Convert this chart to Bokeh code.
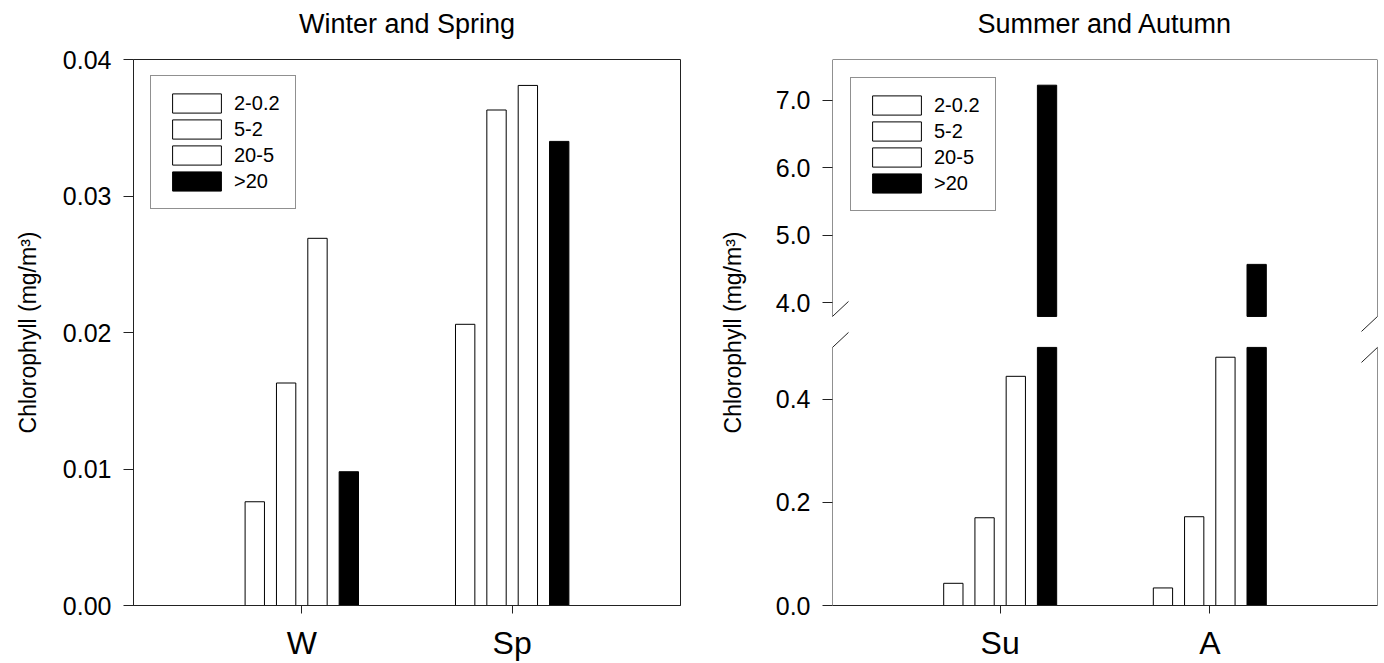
import numpy as np
from bokeh.plotting import figure
from bokeh.layouts import row
from bokeh.models import (FixedTicker, NumeralTickFormatter, Legend, LegendItem,
                          Arrow, ColumnDataSource, Range1d, Title)
from bokeh.embed import file_html
from bokeh.resources import INLINE

# ---------------- data ----------------
size_classes = ["2-0.2", "5-2", "20-5", ">20"]
fill_colors = ["white", "white", "white", "black"]

ws_title = "Winter and Spring"
ws_categories = ["W", "Sp"]
ws_2_02 = [0.0076, 0.0206]
ws_5_2 = [0.0163, 0.0363]
ws_20_5 = [0.0269, 0.0381]
ws_gt20 = [0.0098, 0.0340]
ws_ticks = [0.00, 0.01, 0.02, 0.03, 0.04]

sa_title = "Summer and Autumn"
sa_categories = ["Su", "A"]
sa_2_02 = [0.043, 0.034]
sa_5_2 = [0.170, 0.172]
sa_20_5 = [0.444, 0.481]
sa_gt20 = [7.22, 4.57]
sa_ticks_low = [0.0, 0.2, 0.4]
sa_ticks_high = [4.0, 5.0, 6.0, 7.0]

y_label = "Chlorophyll (mg/m³)"

# ---------------- style constants ----------------
FONT = "Liberation Sans"
AX = "#222222"
X_START, X_END = 0.2, 2.8
OFFSETS = [-0.2235, -0.0745, 0.0745, 0.2235]
BAR_W = 0.092
FRAME_H = 546

# broken axis (right panel)
LOW_MAX, HIGH_MIN, HIGH_MAX = 0.5, 3.8, 7.6
GAP, SCALE = 0.06, 0.131


def brk(v):
    v = np.asarray(v, dtype=float)
    return np.where(v <= LOW_MAX, v, LOW_MAX + GAP + (v - HIGH_MIN) * SCALE)


def style(p, cats, title, label_standoff):
    p.xgrid.visible = False
    p.ygrid.visible = False
    p.background_fill_color = "white"
    p.border_fill_color = "white"
    # spacer between frame and title, then the title itself (stacked outward)
    p.add_layout(Title(text=" ", text_font_size="10px", standoff=8), "above")
    p.add_layout(Title(text=title, text_font=FONT, text_font_size="27px",
                       text_font_style="normal", text_color="black",
                       align="center", standoff=0), "above")
    xa = p.xaxis[0]
    xa.ticker = FixedTicker(ticks=[i + 1 for i in range(len(cats))])
    xa.major_label_overrides = {i + 1: c for i, c in enumerate(cats)}
    xa.major_tick_out = 8
    xa.major_tick_in = 0
    xa.minor_tick_out = 0
    xa.minor_tick_in = 0
    xa.axis_line_color = AX
    xa.major_tick_line_color = AX
    xa.major_label_text_font = FONT
    xa.major_label_text_font_size = "32px"
    xa.major_label_text_color = "black"
    xa.major_label_standoff = 11
    ya = p.yaxis[0]
    ya.major_tick_out = 10
    ya.major_tick_in = 0
    ya.minor_tick_out = 0
    ya.minor_tick_in = 0
    ya.axis_line_color = AX
    ya.major_tick_line_color = AX
    ya.major_label_text_font = FONT
    ya.major_label_text_font_size = "25px"
    ya.major_label_text_color = "black"
    ya.major_label_standoff = 12
    ya.axis_label = y_label
    ya.axis_label_text_font = FONT
    ya.axis_label_text_font_size = "23px"
    ya.axis_label_text_font_style = "normal"
    ya.axis_label_text_color = "black"
    ya.axis_label_standoff = label_standoff


def add_legend(p, renderers, loc):
    items = [LegendItem(label=s, renderers=[r]) for s, r in zip(size_classes, renderers)]
    leg = Legend(items=items, location=loc)
    leg.border_line_color = AX
    leg.border_line_width = 1
    leg.background_fill_color = "white"
    leg.background_fill_alpha = 1
    leg.padding = 15
    leg.spacing = 2
    leg.margin = 0
    leg.glyph_width = 61
    leg.glyph_height = 24
    leg.label_standoff = 7
    leg.label_text_font = FONT
    leg.label_text_font_size = "20px"
    leg.label_text_color = "black"
    p.add_layout(leg)


# ---------------- left panel ----------------
p1 = figure(width=700, height=663, x_range=Range1d(X_START, X_END),
            y_range=Range1d(ws_ticks[0], ws_ticks[-1]),
            output_backend="svg", toolbar_location=None,
            min_border_left=133, min_border_right=20,
            min_border_top=59, min_border_bottom=58)
style(p1, ws_categories, ws_title, 19)
p1.outline_line_color = AX
p1.outline_line_width = 1
p1.yaxis[0].ticker = FixedTicker(ticks=ws_ticks)
p1.yaxis[0].formatter = NumeralTickFormatter(format="0.00")

ws_series = [ws_2_02, ws_5_2, ws_20_5, ws_gt20]
r1 = []
for i, vals in enumerate(ws_series):
    src = ColumnDataSource(dict(x=[k + 1 + OFFSETS[i] for k in range(len(vals))], top=vals))
    r = p1.vbar(x="x", top="top", bottom=0, width=BAR_W, source=src,
                fill_color=fill_colors[i], line_color="black", line_width=1)
    r1.append(r)
add_legend(p1, r1, (17, 396))

# ---------------- right panel (broken axis) ----------------
y_top = float(brk(HIGH_MAX))
p2 = figure(width=684, height=663, x_range=Range1d(X_START, X_END),
            y_range=Range1d(0, y_top),
            output_backend="svg", toolbar_location=None,
            min_border_left=132, min_border_right=7,
            min_border_top=59, min_border_bottom=58)
style(p2, sa_categories, sa_title, 27)
p2.outline_line_color = None
ya2 = p2.yaxis[0]
ya2.axis_line_color = None
all_ticks = sa_ticks_low + sa_ticks_high
tick_pos = [float(t) for t in brk(all_ticks)]
ya2.ticker = FixedTicker(ticks=tick_pos)
ya2.major_label_overrides = {tp: f"{t:.1f}" for tp, t in zip(tick_pos, all_ticks)}

sa_series = [sa_2_02, sa_5_2, sa_20_5, sa_gt20]
r2 = []
for i, vals in enumerate(sa_series):
    vals = np.asarray(vals, dtype=float)
    xs = [k + 1 + OFFSETS[i] for k in range(len(vals))]
    low_src = ColumnDataSource(dict(x=xs, top=brk(np.minimum(vals, LOW_MAX))))
    r = p2.vbar(x="x", top="top", bottom=0, width=BAR_W, source=low_src,
                fill_color=fill_colors[i], line_color="black", line_width=1)
    r2.append(r)
    hi = vals > HIGH_MIN
    hi_src = ColumnDataSource(dict(x=[x for x, h in zip(xs, hi) if h],
                                   top=brk(vals[hi]).tolist(),
                                   bottom=[float(brk(HIGH_MIN))] * int(hi.sum())))
    p2.vbar(x="x", top="top", bottom="bottom", width=BAR_W, source=hi_src,
            fill_color=fill_colors[i], line_color="black", line_width=1)
add_legend(p2, r2, (18, 394))

# frame lines with the break
y_lo = float(brk(LOW_MAX))
y_hi = float(brk(HIGH_MIN))
segs = [
    (X_START, 0, X_START, y_lo), (X_START, y_hi, X_START, y_top),
    (X_END, 0, X_END, y_lo), (X_END, y_hi, X_END, y_top),
    (X_START, y_top, X_END, y_top),
]
# break marks "/"
px_x = 545 / (X_END - X_START)
px_y = FRAME_H / y_top
dx, dy = 16 / px_x, 15 / px_y
for xb in (X_START, X_END):
    for yb in (y_lo, y_hi):
        segs.append((xb - dx, yb - dy, xb + dx, yb + dy))
for (xa, ya, xb, yb) in segs:
    p2.add_layout(Arrow(end=None, x_start=xa, y_start=ya, x_end=xb, y_end=yb,
                        line_color=AX, line_width=1))

layout = row(p1, p2)
open("out.html", "w").write(file_html(layout, INLINE))
